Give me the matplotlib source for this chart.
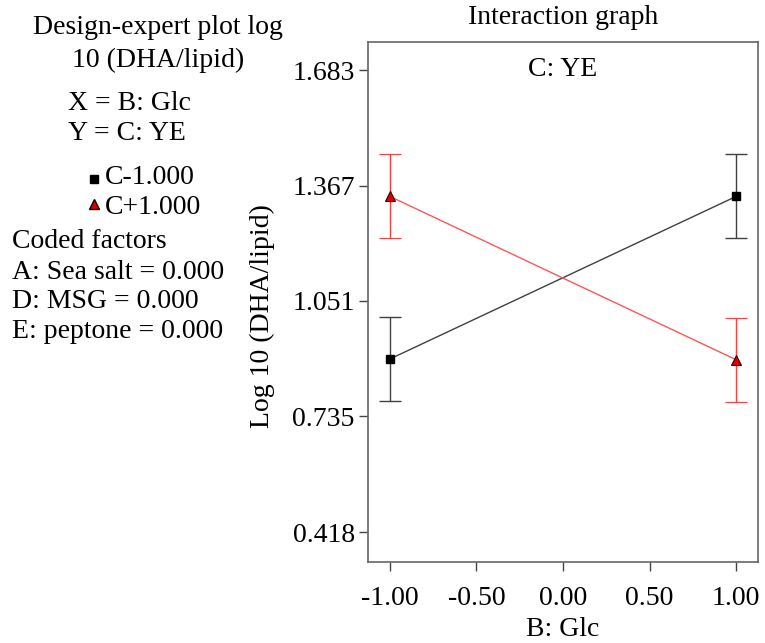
import matplotlib
matplotlib.use("Agg")
import matplotlib.pyplot as plt
from matplotlib.lines import Line2D

plt.rcParams['font.family'] = ['Liberation Serif', 'DejaVu Serif']

glc = [-1.0, 1.0]
c_minus = [0.892, 1.337]
c_minus_err = [0.115, 0.115]
c_plus = [1.337, 0.890]
c_plus_err = [0.115, 0.115]
yticks = [0.418, 0.735, 1.051, 1.367, 1.683]
xticks = [-1.0, -0.5, 0.0, 0.5, 1.0]

W, H = 765, 643
fig = plt.figure(figsize=(W/100, H/100), dpi=100)
ax = fig.add_axes([368/W, 1-562/H, (758-368)/W, (562-42)/H])

ax.errorbar(glc, c_minus, yerr=c_minus_err, color='#404040', ecolor='#404040',
            lw=1, elinewidth=1, capsize=8, capthick=1, marker='s', ms=6,
            mfc='black', mec='black', zorder=3)
ax.errorbar(glc, c_plus, yerr=c_plus_err, color='#ff5555', ecolor='#ff3b3b',
            lw=1, elinewidth=1, capsize=8, capthick=1, marker='^', ms=7,
            mfc='#dd0000', mec='#330000', mew=0.8, zorder=3)

ax.set_xlim(-1.127, 1.127)
ax.set_ylim(0.336, 1.760)
ax.set_xticks(xticks)
ax.set_xticklabels([f"{v:.2f}" for v in xticks])
ax.set_yticks(yticks)
ax.set_yticklabels([f"{v:.3f}" for v in yticks])
ax.tick_params(direction='out', length=6.5, width=1, colors='#444444', labelsize=20,
               labelcolor='black', pad=3)
ax.tick_params(axis='x', pad=11)
for s in ax.spines.values():
    s.set_color('#666666')
    s.set_linewidth(1.2)

fs = 20
fig.text(563/W, 1-18/H, 'Interaction graph', ha='center', va='center', fontsize=fs)
fig.text(563/W, 1-629/H, 'B: Glc', ha='center', va='center', fontsize=fs)
fig.text(262/W, 1-316/H, 'Log 10 (DHA/lipid)', ha='center', va='center', rotation=90, fontsize=fs)
ax.text(0.5, 1-(69-42)/520, 'C: YE', transform=ax.transAxes, ha='center', va='center', fontsize=fs)

fig.text(158/W, 1-28/H, 'Design-expert plot log', ha='center', va='center', fontsize=fs)
fig.text(158/W, 1-60/H, '10 (DHA/lipid)', ha='center', va='center', fontsize=fs)
fig.text(68/W, 1-103/H, 'X = B: Glc', ha='left', va='center', fontsize=fs)
fig.text(68/W, 1-133/H, 'Y = C: YE', ha='left', va='center', fontsize=fs)
fig.add_artist(Line2D([94/W], [1-179/H], marker='s', ms=6, color='black', transform=fig.transFigure))
fig.add_artist(Line2D([94/W], [1-204/H], marker='^', ms=7, mfc='#dd0000', mec='black', mew=1, color='black', transform=fig.transFigure))
fig.text(105/W, 1-178/H, 'C-1.000', ha='left', va='center', fontsize=fs)
fig.text(105/W, 1-207/H, 'C+1.000', ha='left', va='center', fontsize=fs)
fig.text(12/W, 1-241/H, 'Coded factors', ha='left', va='center', fontsize=fs)
fig.text(12/W, 1-272/H, 'A: Sea salt = 0.000', ha='left', va='center', fontsize=fs)
fig.text(12/W, 1-302/H, 'D: MSG = 0.000', ha='left', va='center', fontsize=fs)
fig.text(12/W, 1-332/H, 'E: peptone = 0.000', ha='left', va='center', fontsize=fs)

fig.savefig('out.png', dpi=100)
